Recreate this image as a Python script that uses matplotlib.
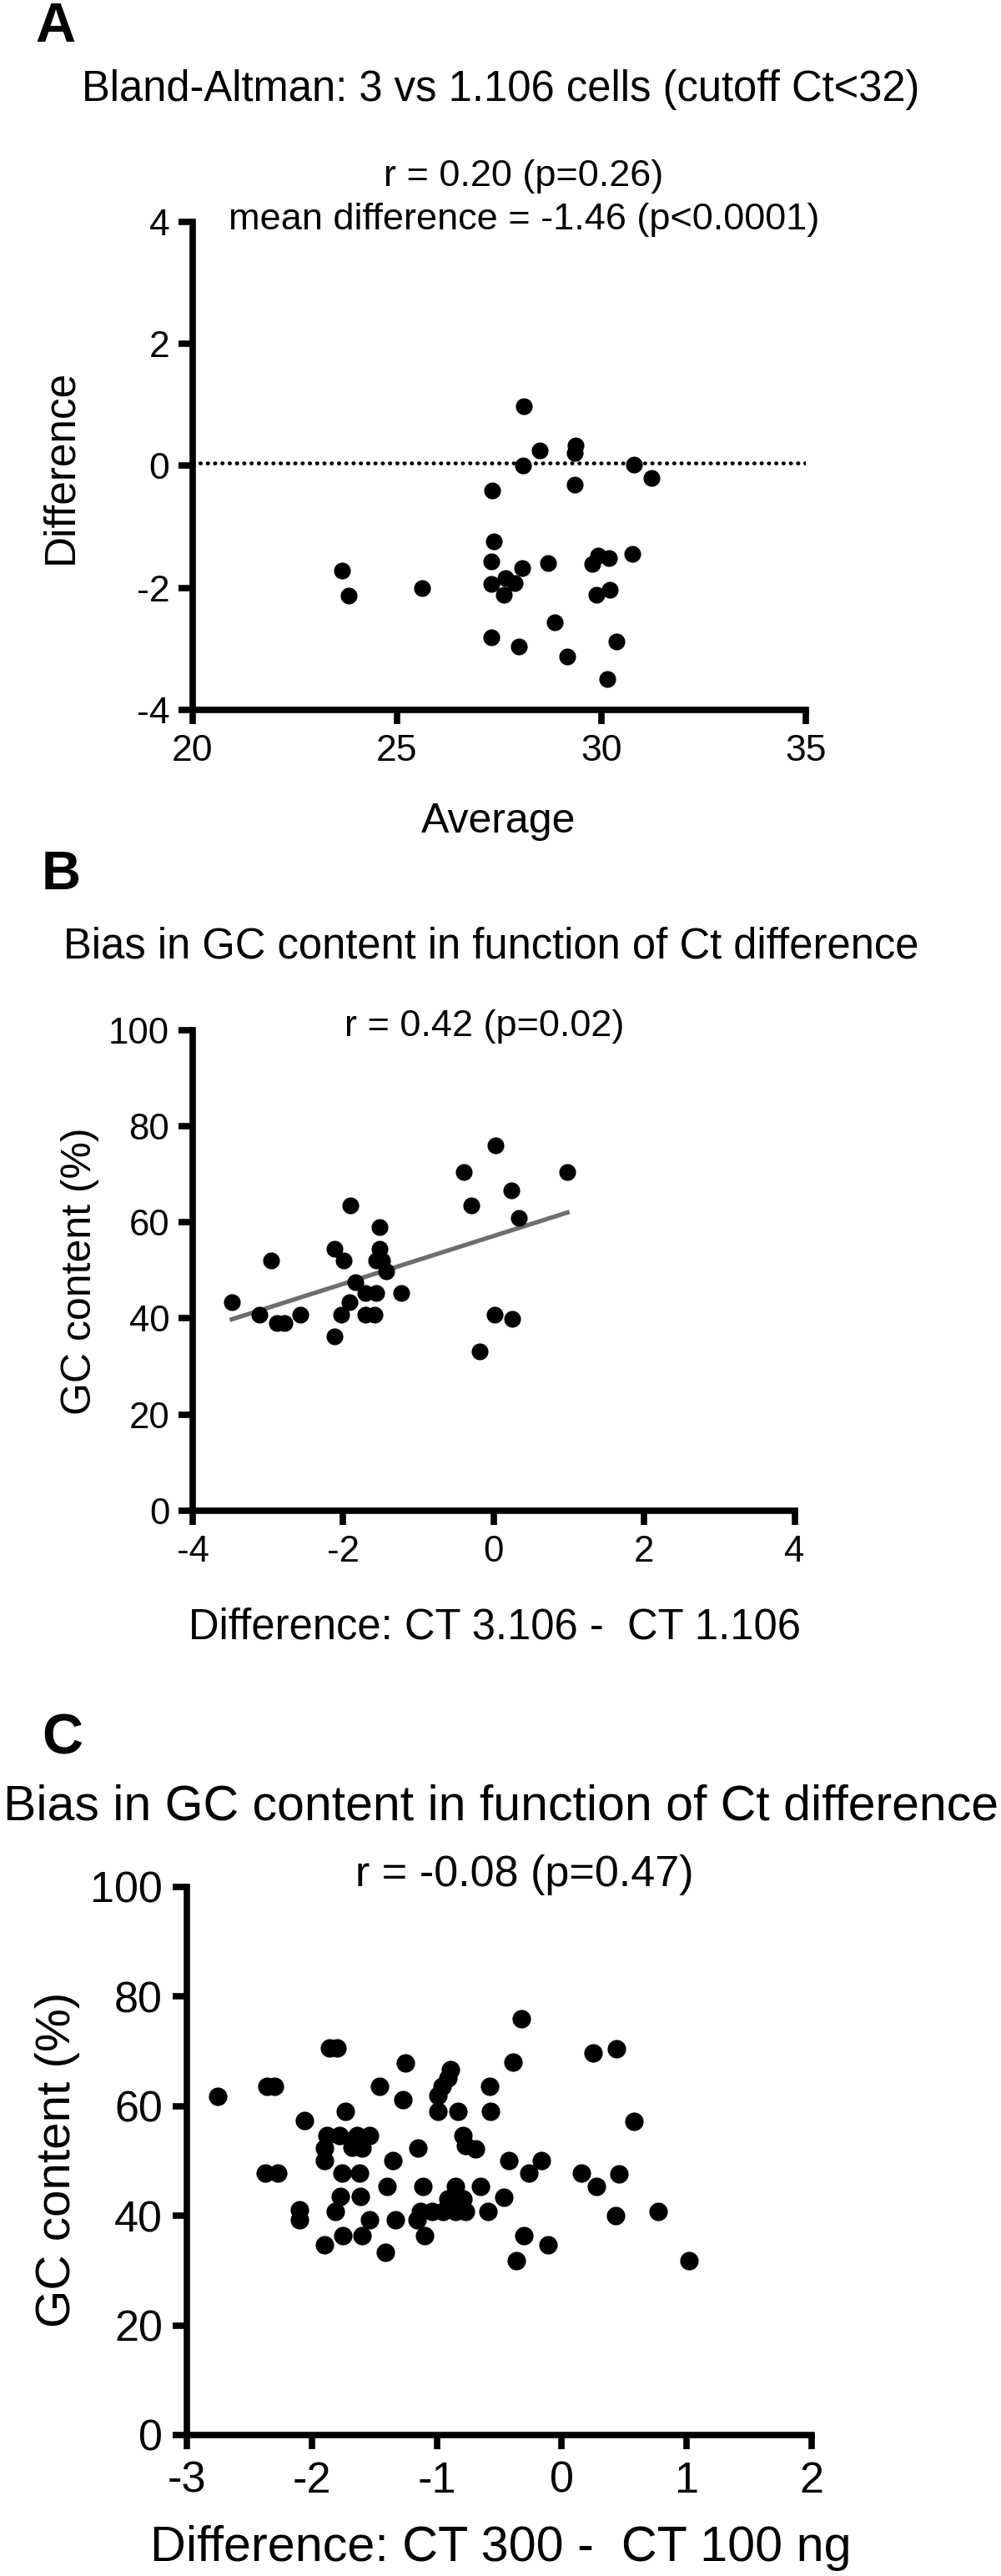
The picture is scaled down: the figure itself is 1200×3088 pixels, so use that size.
import numpy as np
import matplotlib
matplotlib.use("Agg")
from matplotlib import pyplot as plt

plt.rcParams['font.family'] = ['Liberation Sans', 'DejaVu Sans']

# panel A: Bland-Altman, 3 vs 1.106 cells
a_average = [23.65, 23.81, 25.62, 28.10, 28.49, 29.37, 29.35, 28.09, 30.81, 31.24,
             29.35, 27.34, 27.37, 27.30, 28.07, 28.70, 27.30, 27.65, 27.88, 27.62,
             29.79, 29.92, 30.19, 30.77, 29.89, 30.20, 28.86, 27.30, 27.98, 29.16,
             30.38, 30.15]
a_difference = [-1.72, -2.13, -2.00, 0.97, 0.25, 0.33, 0.21, 0.01, 0.02, -0.20,
                -0.31, -0.41, -1.24, -1.57, -1.68, -1.59, -1.93, -1.84, -1.92, -2.12,
                -1.61, -1.47, -1.52, -1.45, -2.12, -2.03, -2.57, -2.81, -2.96, -3.12,
                -2.88, -3.49]
a_ref_line = 0.05

# panel B: GC content vs Ct difference (3.106 - 1.106)
b_diff = [-3.48, -3.11, -2.96, -2.88, -2.78, -2.57, -2.12, -1.99, -1.91, -2.11,
          -2.03, -1.92, -1.84, -1.70, -1.71, -1.58, -1.56, -1.52, -1.52, -1.56,
          -1.48, -1.43, -1.23, -0.40, -0.30, 0.02, 0.24, 0.33, 0.98, 0.01,
          0.25, -0.19]
b_gc = [43.4, 40.8, 52.0, 39.1, 39.1, 40.8, 54.5, 52.0, 63.5, 36.2,
        40.8, 43.4, 47.6, 45.3, 40.8, 40.8, 45.3, 59.0, 54.5, 52.0,
        52.0, 49.8, 45.3, 70.4, 63.5, 76.1, 66.6, 60.9, 70.4, 40.8,
        39.9, 33.2]

# panel C: GC content vs Ct difference (300 - 100 ng)
c_diff = [-2.75, -2.36, -2.30, -2.37, -2.27, -2.10, -2.10, -2.06, -1.90, -1.86,
          -1.80, -1.73, -1.88, -1.78, -1.64, -1.54, -1.90, -1.68, -1.60, -1.90,
          -1.76, -1.62, -1.77, -1.61, -1.81, -1.75, -1.60, -1.54, -1.46, -1.41,
          -1.40, -1.35, -1.33, -1.27, -1.25, -1.15, -1.16, -1.13, -1.11, -1.10,
          -1.04, -0.99, -0.99, -0.96, -0.91, -0.89, -0.95, -0.91, -0.85, -0.85,
          -0.83, -0.79, -0.79, -0.77, -0.77, -0.69, -0.65, -0.59, -0.58, -0.57,
          -0.46, -0.42, -0.39, -0.36, -0.32, -0.30, -0.26, -0.16, -0.11, 0.16,
          0.25, 0.28, 0.43, 0.44, 0.46, 0.58, 0.77, 1.02]
c_gc = [61.8, 63.6, 63.6, 47.8, 47.8, 41.1, 39.2, 57.3, 34.7, 70.6,
        70.6, 59.0, 54.7, 54.7, 54.7, 54.7, 52.3, 52.5, 52.3, 50.0,
        47.8, 47.8, 43.5, 43.5, 40.8, 36.4, 36.4, 39.2, 63.6, 33.3,
        45.4, 50.0, 39.2, 61.2, 67.9, 52.3, 39.2, 40.8, 45.4, 36.4,
        40.8, 61.9, 59.1, 63.6, 65.1, 66.6, 40.8, 43.1, 45.4, 40.8,
        59.1, 54.7, 43.1, 52.8, 40.8, 52.2, 45.4, 40.8, 63.6, 59.1,
        43.4, 50.0, 68.0, 31.8, 76.0, 36.3, 47.8, 50.0, 34.7, 47.8,
        69.7, 45.4, 40.0, 70.5, 47.6, 57.2, 40.8, 31.8]

W, H = 1200, 3088
fig = plt.figure(figsize=(W / 100, H / 100), dpi=100)


def fx(x):
    return x / W


def fy(y):
    return 1 - y / H


def add_axes(left, top, right, bottom):
    return fig.add_axes([fx(left), fy(bottom), (right - left) / W, (bottom - top) / H])


def style(ax, xticks, yticks, fs, xpad, ypad):
    ax.set_xlim(xticks[0], xticks[-1])
    ax.set_ylim(yticks[0], yticks[-1])
    ax.set_xticks(xticks)
    ax.set_yticks(yticks)
    ax.set_xticklabels([f"{t:g}" for t in xticks])
    ax.set_yticklabels([f"{t:g}" for t in yticks])
    for s in ['top', 'right']:
        ax.spines[s].set_visible(False)
    for s in ['left', 'bottom']:
        ax.spines[s].set_linewidth(5.5)
        ax.spines[s].set_capstyle('projecting')
    ax.tick_params(width=5.5, length=12, direction='out', labelsize=fs)
    ax.tick_params(axis='x', pad=xpad)
    ax.tick_params(axis='y', pad=ypad)


# ---- A
axA = add_axes(231, 265.5, 965.6, 851)
axA.axhline(a_ref_line, color='black', lw=3.4, linestyle=(0, (0.1, 1.75)),
            dash_capstyle='round', zorder=1)
axA.scatter(a_average, a_difference, s=210, color='black', linewidths=0,
            zorder=3, clip_on=False)
style(axA, [20, 25, 30, 35], [-4, -2, 0, 2, 4], 32, 9, 8)

fig.text(fx(66), fy(32.5), "A", fontsize=48, fontweight='bold', ha='center', va='center')
fig.text(fx(600.6), fy(107), "Bland-Altman: 3 vs 1.106 cells (cutoff Ct<32)",
         fontsize=36.5, ha='center', va='center')
fig.text(fx(628), fy(211), "r = 0.20 (p=0.26)", fontsize=32.5, ha='center', va='center')
fig.text(fx(628), fy(263.5), "mean difference = -1.46 (p<0.0001)", fontsize=32.5,
         ha='center', va='center')
fig.text(fx(598), fy(985), "Average", fontsize=36, ha='center', va='center')
fig.text(fx(72.7), fy(559.5), "Difference", fontsize=37, ha='center', va='center',
         rotation=90)

# ---- B
axB = add_axes(231, 1235, 952.6, 1810.8)
k, b0 = np.polyfit(b_diff, b_gc, 1)
xs = np.array([min(b_diff), max(b_diff)])
axB.plot(xs, k * xs + b0, color='#6e6e6e', lw=3.8, zorder=2)
axB.scatter(b_diff, b_gc, s=210, color='black', linewidths=0, zorder=3, clip_on=False)
style(axB, [-4, -2, 0, 2, 4], [0, 20, 40, 60, 80, 100], 31.5, 9, 8)

fig.text(fx(72.7), fy(1048.7), "B", fontsize=47, fontweight='bold', ha='center', va='center')
fig.text(fx(589), fy(1134.8), "Bias in GC content in function of Ct difference",
         fontsize=36.5, ha='center', va='center')
fig.text(fx(581), fy(1230.5), "r = 0.42 (p=0.02)", fontsize=32.5, ha='center', va='center')
fig.text(fx(593), fy(1951), "Difference: CT 3.106 -  CT 1.106", fontsize=36.5,
         ha='center', va='center')
fig.text(fx(95.6), fy(1524), "GC content (%)", fontsize=36, ha='center', va='center',
         rotation=90)

# ---- C
axC = add_axes(224, 2261.8, 973, 2919)
axC.scatter(c_diff, c_gc, s=255, color='black', linewidths=0, zorder=3, clip_on=False)
style(axC, [-3, -2, -1, 0, 1, 2], [0, 20, 40, 60, 80, 100], 37.5, 10, 9)

fig.text(fx(75), fy(2084.7), "C", fontsize=49, fontweight='bold', ha='center', va='center')
fig.text(fx(600), fy(2166.5), "Bias in GC content in function of Ct difference",
         fontsize=42.5, ha='center', va='center')
fig.text(fx(629), fy(2248), "r = -0.08 (p=0.47)", fontsize=37.5, ha='center', va='center')
fig.text(fx(600.6), fy(3055), "Difference: CT 300 -  CT 100 ng", fontsize=42.7,
         ha='center', va='center')
fig.text(fx(69), fy(2589), "GC content (%)", fontsize=42, ha='center', va='center',
         rotation=90)

fig.savefig("out.png", dpi=100, facecolor='white')
